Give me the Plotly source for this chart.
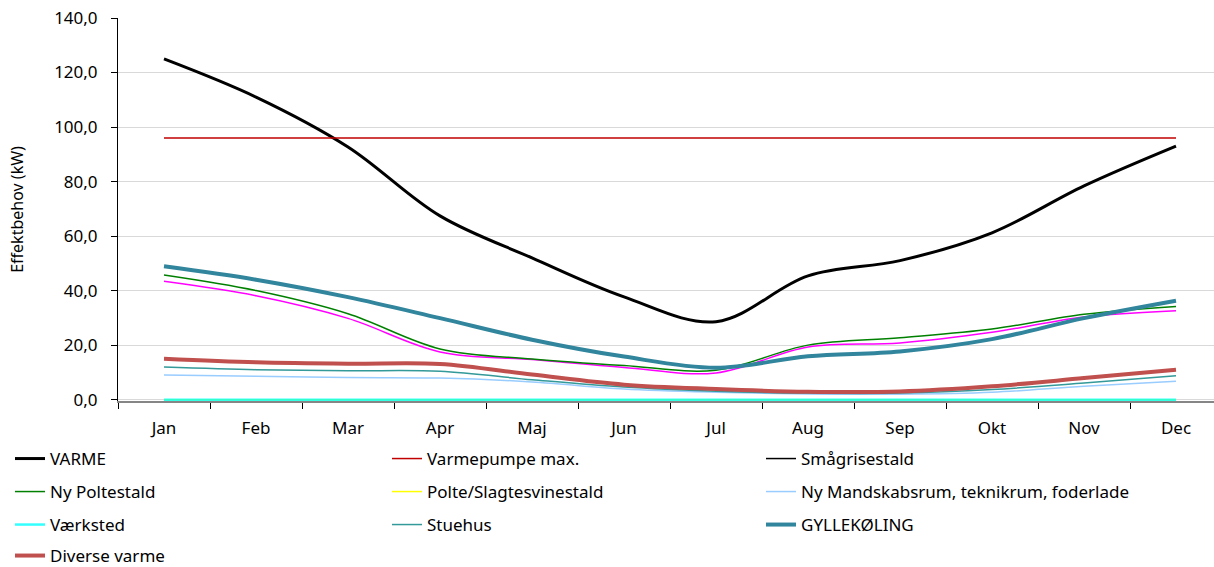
import plotly.graph_objects as go

months = ["Jan", "Feb", "Mar", "Apr", "Maj", "Jun", "Jul", "Aug", "Sep", "Okt", "Nov", "Dec"]

varme = [125.0, 111.0, 92.7, 67.4, 52.0, 37.7, 28.6, 45.4, 51.0, 61.2, 78.4, 93.0]
varmepumpe_max = [96.0] * 12
smaagrisestald = [43.4, 38.1, 29.8, 17.5, 14.7, 11.8, 9.8, 19.3, 20.8, 24.7, 30.3, 32.6]
ny_poltestald = [45.7, 40.0, 31.5, 18.6, 14.9, 12.5, 10.8, 20.0, 22.7, 25.9, 31.3, 34.2]
polte_slagtesvinestald = [0.0] * 12
ny_mandskabsrum = [9.0, 8.6, 8.1, 7.9, 6.5, 3.9, 2.7, 2.1, 2.0, 2.7, 4.9, 6.7]
vaerksted = [0.0] * 12
stuehus = [12.0, 11.0, 10.6, 10.4, 7.3, 4.6, 3.1, 2.4, 2.4, 3.7, 6.1, 8.8]
gyllekoeling = [48.9, 44.0, 37.6, 29.9, 22.0, 15.8, 11.7, 15.9, 17.7, 22.2, 29.9, 36.3]
diverse_varme = [15.0, 13.7, 13.2, 13.1, 9.2, 5.5, 3.9, 2.9, 3.0, 4.9, 7.9, 11.0]

y_ticks = [0, 20, 40, 60, 80, 100, 120, 140]

FONT = "Noto Sans"
FS = 17

W, H = 1214, 567
L, T = 118, 18
PX_PER_UNIT = 382 / 140
Y_LOW = -0.5  # small pad so the zero-valued lines are not clipped by the axis
B = H - 400 - (-Y_LOW) * PX_PER_UNIT

# legend slots (px): text left x, row center y
COLS = [50, 427, 801]
ROWS = [459, 492, 525, 556]

fig = go.Figure()
legend_layout = {}
slot = [0]


def next_legend():
    i = slot[0]
    slot[0] += 1
    key = "legend" if i == 0 else f"legend{i + 1}"
    col, row = i % 3, i // 3
    legend_layout[key] = dict(
        orientation="h", xref="container", yref="container",
        x=(COLS[col] - 40) / W, y=1 - ROWS[row] / H,
        xanchor="left", yanchor="middle",
        font=dict(family=FONT, size=FS, color="#000000"),
        bgcolor="rgba(0,0,0,0)", borderwidth=0, itemwidth=30,
        visible=True,
    )
    return key


def add(name, y, color, width, legend_color=None):
    key = next_legend()
    if legend_color is None:
        fig.add_trace(go.Scatter(
            x=months, y=y, name=name, mode="lines",
            line=dict(color=color, width=width, shape="spline", smoothing=1),
            legend=key, showlegend=True, cliponaxis=False, hoverinfo="name+y",
        ))
    else:
        fig.add_trace(go.Scatter(
            x=months, y=y, name=name, mode="lines",
            line=dict(color=color, width=width, shape="spline", smoothing=1),
            showlegend=False, cliponaxis=False, hoverinfo="name+y",
        ))
        fig.add_trace(go.Scatter(
            x=[months[0]], y=[None], name=name, mode="lines",
            line=dict(color=legend_color, width=width), legend=key,
            showlegend=True, hoverinfo="skip",
        ))


add("VARME", varme, "#000000", 3)
add("Varmepumpe max.", varmepumpe_max, "#C00000", 1.5)
add("Smågrisestald", smaagrisestald, "#FF00FF", 1.5, legend_color="#000000")
add("Ny Poltestald", ny_poltestald, "#008000", 1.5)
add("Polte/Slagtesvinestald", polte_slagtesvinestald, "#FFFF00", 1.5)
add("Ny Mandskabsrum, teknikrum, foderlade", ny_mandskabsrum, "#99CCFF", 1.5)
add("Værksted", vaerksted, "rgba(0,255,255,0.8)", 2.5)
add("Stuehus", stuehus, "#339999", 1.5)
add("GYLLEKØLING", gyllekoeling, "#31859C", 4)
add("Diverse varme", diverse_varme, "#C0504D", 4)

fig.update_layout(
    width=W, height=H,
    margin=dict(l=L, r=0, t=T, b=B, pad=0),
    paper_bgcolor="white", plot_bgcolor="white",
    separators=",.",
    showlegend=True,
    font=dict(family=FONT, size=FS, color="#000000"),
    xaxis=dict(
        type="category", categoryorder="array", categoryarray=months,
        range=[-0.5, 11.413], tickson="boundaries",
        ticks="outside", ticklen=6, tickcolor="#000000", tickwidth=1,
        showline=True, linecolor="#868686", linewidth=1.5,
        showgrid=False, zeroline=False, ticklabelstandoff=11,
        layer="below traces",
        tickfont=dict(family=FONT, size=FS, color="#000000"),
    ),
    yaxis=dict(
        range=[Y_LOW, 140], tickvals=y_ticks, tickformat=".1f",
        ticks="outside", ticklen=6, tickcolor="#000000", tickwidth=1,
        showline=True, linecolor="#000000", linewidth=1,
        showgrid=True, gridcolor="#D9D9D9", gridwidth=1, zeroline=False,
        ticklabelstandoff=10,
        tickfont=dict(family=FONT, size=FS, color="#000000"),
    ),
    annotations=[dict(
        text="Effektbehov (kW)", textangle=-90, showarrow=False,
        xref="paper", yref="paper", x=(17 - L) / (W - L), y=(H - 210 - B) / (H - T - B),
        xanchor="center", yanchor="middle",
        font=dict(family=FONT, size=16, color="#000000"),
    )],
    **legend_layout,
)

fig.write_html(
    "out.html",
    config={"displayModeBar": False},
    post_script="document.body.style.margin='0px';document.body.style.overflow='hidden';",
)
